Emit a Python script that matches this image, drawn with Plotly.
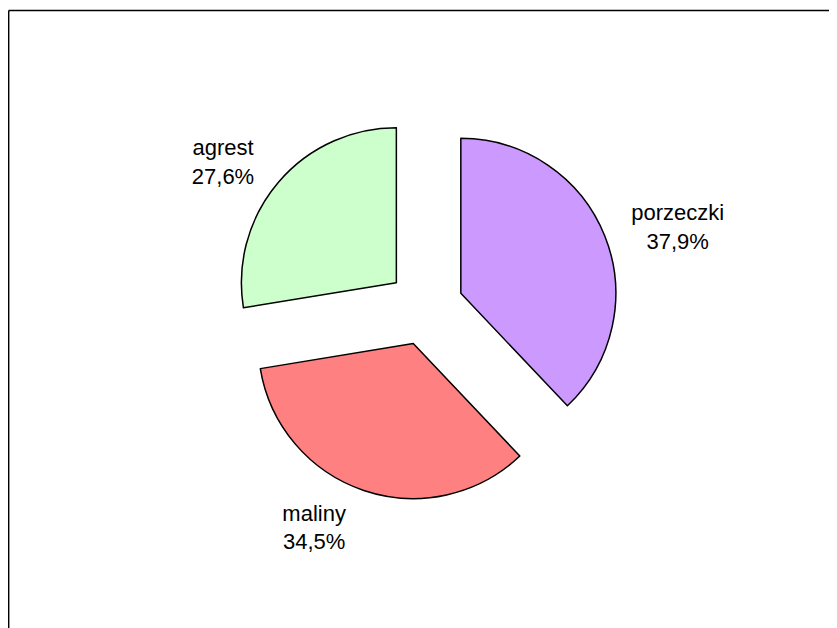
import plotly.graph_objects as go

# owoce - udział procentowy
labels = ["porzeczki", "maliny", "agrest"]
values = [11, 10, 8]
colors = ["#CC99FF", "#FF8080", "#CCFFCC"]

FONT = "Liberation Sans, Arial, sans-serif"

fig = go.Figure()

# wycinki
fig.add_trace(go.Pie(
    labels=labels,
    values=values,
    sort=False,
    direction="clockwise",
    rotation=0,
    pull=0.246,
    marker=dict(colors=colors, line=dict(color="black", width=1.5)),
    textinfo="none",
    domain=dict(x=[0.2665, 0.7309], y=[0.2107, 0.8296]),
    showlegend=False,
    hoverinfo="label+percent",
))

# etykiety (trochę dalej od wycinków)
fig.add_trace(go.Pie(
    labels=labels,
    values=values,
    sort=False,
    direction="clockwise",
    rotation=0,
    pull=0.226,
    marker=dict(colors=["rgba(0,0,0,0)"] * 3, line=dict(width=0)),
    texttemplate="%{label}<br>%{percent:.1%}",
    textposition="outside",
    textfont=dict(family=FONT, size=22, color="black"),
    domain=dict(x=[0.2497, 0.7477], y=[0.1884, 0.8521]),
    showlegend=False,
    hoverinfo="skip",
))

fig.update_layout(
    width=837,
    height=628,
    margin=dict(l=0, r=0, t=0, b=0),
    paper_bgcolor="white",
    plot_bgcolor="white",
    separators=", ",
    font=dict(family=FONT, size=22, color="black"),
    shapes=[
        dict(type="line", xref="paper", yref="paper", x0=0.0008, x1=1.0, y0=0.996, y1=0.996,
             line=dict(color="black", width=1.5)),
        dict(type="line", xref="paper", yref="paper", x0=0.0008, x1=0.0008, y0=0.0, y1=0.996,
             line=dict(color="black", width=1.5)),
    ],
)

fig.write_html("out.html")
